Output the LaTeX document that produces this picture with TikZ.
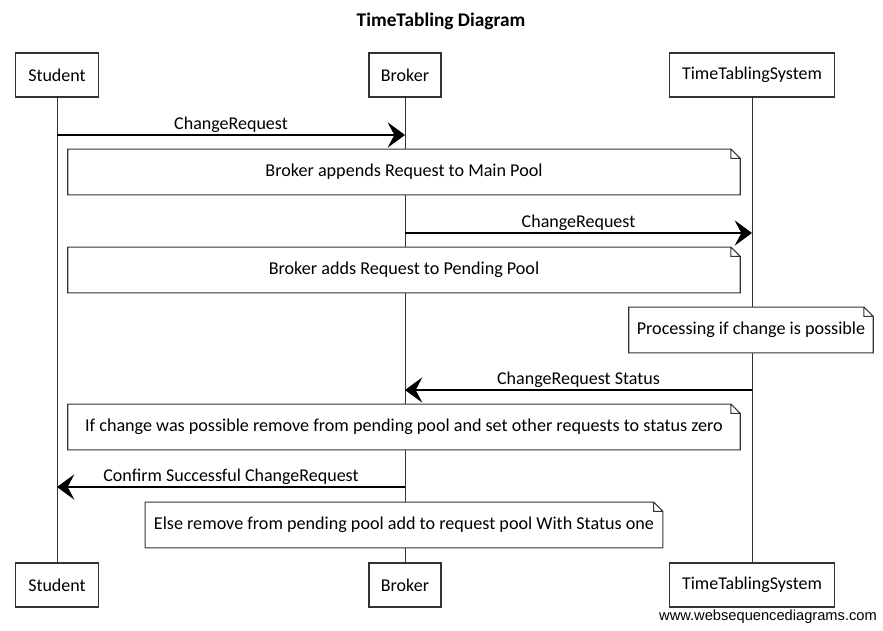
\documentclass[tikz,border=0pt]{standalone}
\usepackage{fontspec}
\setmainfont{Carlito}
\newfontfamily\markfont{Liberation Sans}
\usetikzlibrary{arrows.meta,positioning}

\tikzset{
  actor/.style={draw=black!80, line width=0.8pt, fill=white, minimum height=33pt,
                inner sep=0pt, font=\fontsize{13.5}{15}\selectfont},
  life/.style={draw=black!80, line width=0.6pt},
  msg/.style={draw=black, line width=0.8pt,
              -{Stealth[length=13pt, width=19pt, inset=5pt]}},
  msgtext/.style={above, inner sep=1.5pt, font=\fontsize{13.5}{15}\selectfont},
  notebox/.style={fill=white, minimum height=34pt, inner sep=0pt,
                  font=\fontsize{13.6}{15}\selectfont},
  noteline/.style={draw=black!80, line width=0.8pt}
}

\begin{document}
\begin{tikzpicture}[x=0.75pt, y=-0.75pt]
  \useasboundingbox (0,0) rectangle (883,631);
  % pavadinimas
  \node[font=\fontsize{14.5}{16}\selectfont\bfseries] (title) at (441,21) {TimeTabling Diagram};
  % dalyviai
  \node[actor, minimum width=62pt] (stuT) at (57,75) {Student};
  \node[actor, minimum width=54pt] (brkT) at (405,75) {Broker};
  \node[actor, minimum width=124pt] (ttsT) at (752,75) {TimeTablingSystem};
  \node[actor, minimum width=62pt] (stuB) at (57,585) {Student};
  \node[actor, minimum width=54pt] (brkB) at (405,585) {Broker};
  \node[actor, minimum width=124pt] (ttsB) at (752,585) {TimeTablingSystem};
  % gyvavimo linijos
  \draw[life] (stuT) -- (stuB);
  \draw[life] (brkT) -- (brkB);
  \draw[life] (ttsT) -- (ttsB);
  % pranešimų aukščiai
  \coordinate (m1) at (0,135);
  \coordinate (m2) at (0,233);
  \coordinate (m3) at (0,390);
  \coordinate (m4) at (0,487);
  % pranešimai
  \draw[msg] (stuT |- m1) -- (brkT |- m1) node[msgtext, midway] {ChangeRequest};
  \draw[msg] (brkT |- m2) -- (ttsT |- m2) node[msgtext, midway] {ChangeRequest};
  \draw[msg] (ttsT |- m3) -- (brkT |- m3) node[msgtext, midway] {ChangeRequest Status};
  \draw[msg] (brkT |- m4) -- (stuT |- m4) node[msgtext, midway] {Confirm Successful ChangeRequest};
  % pastabos
  \node[notebox, minimum width=504pt] (n1) at (404,172) {Broker appends Request to Main Pool};
  \node[notebox, minimum width=504pt] (n2) at (404,270) {Broker adds Request to Pending Pool};
  \node[notebox, minimum width=183pt] (n3) at (751,330) {Processing if change is possible};
  \node[notebox, minimum width=504pt] (n4) at (404,427) {If change was possible remove from pending pool and set other requests to status zero};
  \node[notebox, minimum width=388pt] (n5) at (404,525) {Else remove from pending pool add to request pool With Status one};
  \foreach \n in {n1,n2,n3,n4,n5}
    \draw[noteline] (\n.north west) -- ([xshift=-7pt]\n.north east)
      -- ([yshift=-7pt]\n.north east) -- (\n.south east) -- (\n.south west) -- cycle
      ([xshift=-7pt]\n.north east) |- ([yshift=-7pt]\n.north east);
  % vandens ženklas
  \node[font=\markfont\fontsize{11}{13}\selectfont] (mark) at (768,617) {www.websequencediagrams.com};
\end{tikzpicture}
\end{document}
